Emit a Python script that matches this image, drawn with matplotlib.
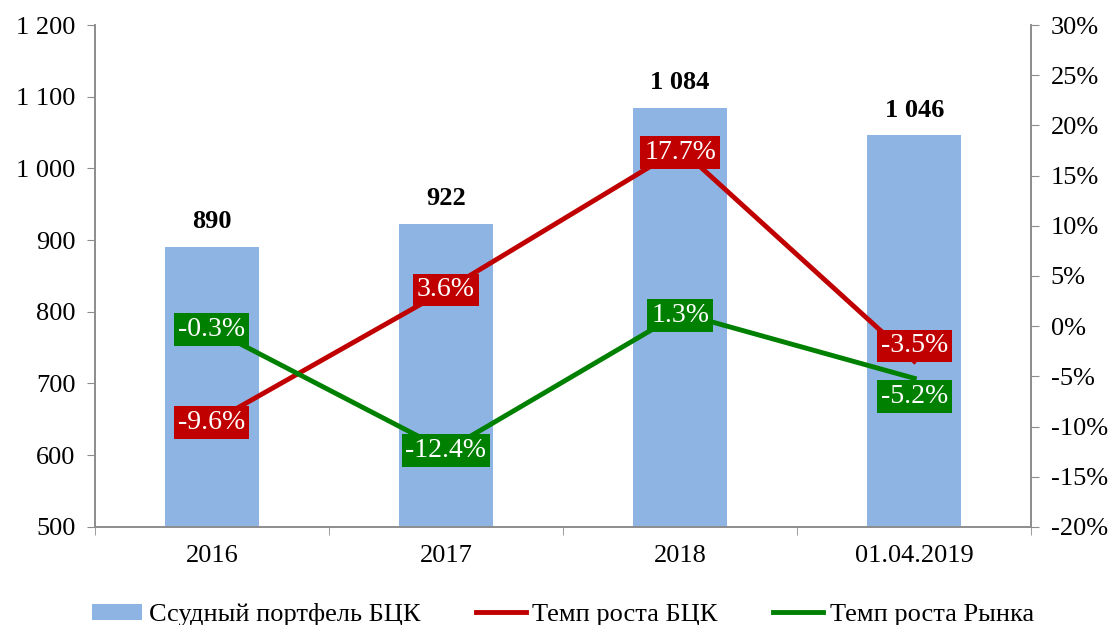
import numpy as np
import matplotlib.pyplot as plt
from matplotlib.ticker import FuncFormatter

plt.rcParams['font.family'] = ['Liberation Serif', 'DejaVu Serif']

categories = ['2016', '2017', '2018', '01.04.2019']
portfolio = [890, 922, 1084, 1046]
growth_bck = [-9.6, 3.6, 17.7, -3.5]
growth_market = [-0.3, -12.4, 1.3, -5.2]
# небольшие сдвиги подписей, чтобы не наезжали друг на друга (в пунктах)
bck_offset = [0, 0, -3, 11]
market_offset = [0, 0, -2, -13]

bar_color = '#8EB4E3'
red = '#C00000'
green = '#008000'
grey = '#8C8C8C'

fig = plt.figure(figsize=(11.15, 6.25), dpi=100)
ax = fig.add_axes([0.085, 0.157, 0.84, 0.803])
ax2 = ax.twinx()

x = np.arange(len(categories))
ax.bar(x, portfolio, width=0.4, color=bar_color, label='Ссудный портфель БЦК', zorder=1)
for xi, v in zip(x, portfolio):
    ax.annotate(f'{v:,}'.replace(',', ' '), (xi, v), xytext=(0, 10), textcoords='offset points',
                ha='center', va='bottom', fontsize=19, fontweight='bold')

ax.set_ylim(500, 1200)
ax.set_yticks(range(500, 1201, 100))
ax.yaxis.set_major_formatter(FuncFormatter(lambda v, p: f'{int(v):,}'.replace(',', ' ')))
ax.set_xlim(-0.5, len(categories) - 0.5)
ax.set_xticks(x)
ax.set_xticklabels(categories)
ax.set_xticks(np.arange(-0.5, len(categories)), minor=True)
ax.tick_params(axis='x', which='major', length=0, pad=13, labelsize=19)
ax.tick_params(axis='x', which='minor', length=6, color=grey)
ax.tick_params(axis='y', length=6, color=grey, labelsize=19, pad=8)

ax2.plot(x, growth_bck, color=red, lw=3.5, label='Темп роста БЦК', zorder=3)
ax2.plot(x, growth_market, color=green, lw=3.5, label='Темп роста Рынка', zorder=3)
for xi, v, off in zip(x, growth_bck, bck_offset):
    ax2.annotate(f'{v:.1f}%', (xi, v), xytext=(0, off), textcoords='offset points',
                 ha='center', va='center', fontsize=20, color='white', zorder=4,
                 bbox=dict(boxstyle='square,pad=0.14', fc=red, ec='none'))
for xi, v, off in zip(x, growth_market, market_offset):
    ax2.annotate(f'{v:.1f}%', (xi, v), xytext=(0, off), textcoords='offset points',
                 ha='center', va='center', fontsize=20, color='white', zorder=4,
                 bbox=dict(boxstyle='square,pad=0.14', fc=green, ec='none'))

ax2.set_ylim(-20, 30)
ax2.set_yticks(range(-20, 31, 5))
ax2.yaxis.set_major_formatter(FuncFormatter(lambda v, p: f'{int(v)}%'))
ax2.tick_params(axis='y', length=6, color=grey, labelsize=19, pad=8)

for a in (ax, ax2):
    a.spines['top'].set_visible(False)
    for s in ('left', 'right', 'bottom'):
        a.spines[s].set_color(grey)
        a.spines[s].set_linewidth(1.2)

h1, l1 = ax.get_legend_handles_labels()
h2, l2 = ax2.get_legend_handles_labels()
fig.legend(h1 + h2, l1 + l2, loc='lower center', bbox_to_anchor=(0.505, -0.04), ncol=3,
           frameon=False, fontsize=19, handlelength=1.9, handleheight=0.6,
           handletextpad=0.25, columnspacing=2.1)

fig.savefig('out.png', dpi=100)
